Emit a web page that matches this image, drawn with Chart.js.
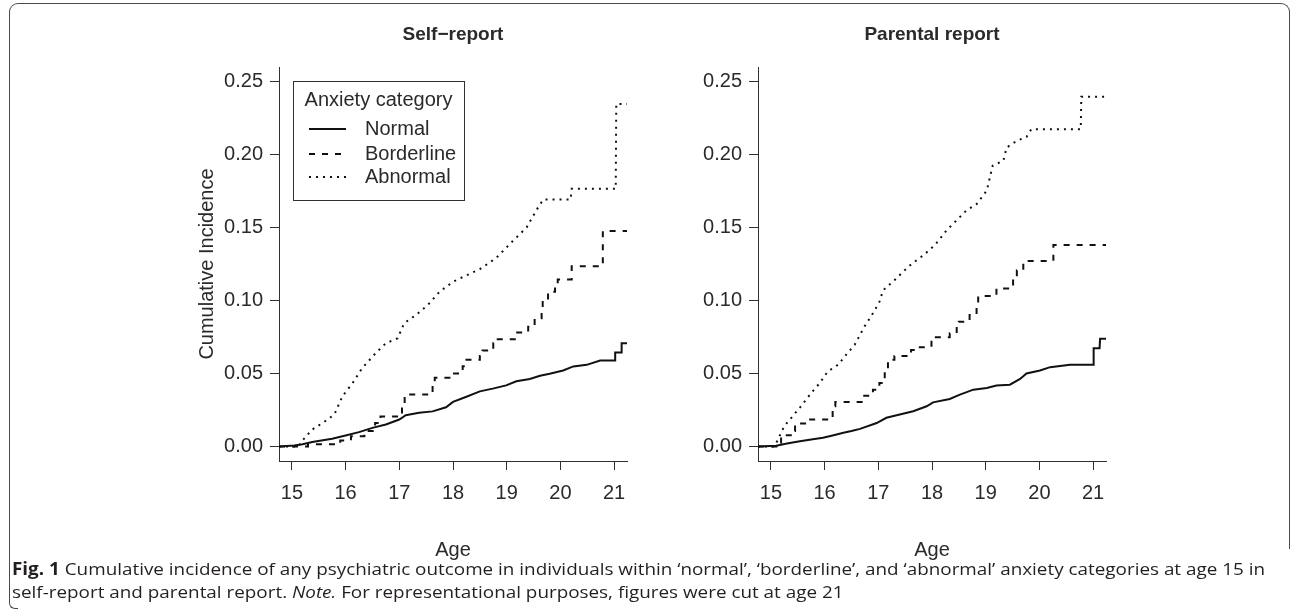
<!DOCTYPE html>
<html>
<head>
<meta charset="utf-8">
<script src="https://cdn.jsdelivr.net/npm/chart.js@4.4.1/dist/chart.umd.min.js"></script>
<style>
  html, body { margin: 0; padding: 0; background: #fff; }
  body { width: 1292px; height: 611px; position: relative; overflow: hidden; }
  .frame { position: absolute; left: 9px; top: 3px; width: 1279px; height: 545px;
           border: 1px solid #4a4a4a; border-bottom: none; border-radius: 9px 9px 0 0; }
  .frame-tail { position: absolute; left: 9px; top: 548px; width: 8px; height: 60px;
                border-left: 1px solid #4a4a4a; border-bottom: 1px solid #4a4a4a; border-radius: 0 0 0 6px; }
  canvas { position: absolute; top: 0; }
  #self-chart { left: 150px; }
  #parent-chart { left: 640px; }
  .caption { position: absolute; left: 12px; white-space: nowrap; display: inline-block;
             font-family: 'Open Sans', 'Noto Sans', sans-serif; font-size: 17px; line-height: 23px;
             color: #231f20; transform-origin: 0 0; }
  .caption b { font-weight: 700; }
</style>
</head>
<body>
<div class="frame"></div>
<div class="frame-tail"></div>
<canvas id="self-chart" width="490" height="562"></canvas>
<canvas id="parent-chart" width="479" height="562"></canvas>
<div class="caption" id="caption-1" style="top:557px"><b>Fig. 1</b> Cumulative incidence of any psychiatric outcome in individuals within ‘normal’, ‘borderline’, and ‘abnormal’ anxiety categories at age 15 in</div>
<div class="caption" id="caption-2" style="top:580px">self-report and parental report. <i>Note.</i> For representational purposes, figures were cut at age 21</div>
<script>
const AGE_TICKS = [15, 16, 17, 18, 19, 20, 21];
const INCIDENCE_TICKS = [0, 0.05, 0.10, 0.15, 0.20, 0.25];
const CATEGORY_LABELS = ['Normal', 'Borderline', 'Abnormal'];
const PANEL_TITLES = ['Self\u2212report', 'Parental report'];

// self-report curves
const selfNormalAge = [14.76, 15.04, 15.2, 15.38, 15.55, 15.75, 16.0, 16.25, 16.5, 16.75, 17.0, 17.12, 17.37, 17.62, 17.87, 18.0, 18.25, 18.5, 18.74, 18.99, 19.18, 19.43, 19.62, 19.8, 20.05, 20.24, 20.49, 20.74, 21.02, 21.02, 21.14, 21.14, 21.3];
const selfNormalInc = [0, 0.0007, 0.0015, 0.003, 0.004, 0.0052, 0.0075, 0.0098, 0.0127, 0.015, 0.0184, 0.0214, 0.023, 0.024, 0.0268, 0.0305, 0.034, 0.0377, 0.0396, 0.0418, 0.0446, 0.0462, 0.0484, 0.0498, 0.052, 0.0548, 0.0559, 0.0589, 0.0589, 0.0643, 0.0643, 0.0707, 0.0707];

const selfBorderAge = [14.76, 15.3, 15.9, 16.1, 16.35, 16.55, 16.65, 17.05, 17.1, 17.62, 17.66, 18.0, 18.18, 18.22, 18.5, 18.55, 18.75, 18.78, 19.15, 19.4, 19.52, 19.65, 19.67, 19.77, 19.9, 19.95, 20.21, 20.79, 21.3];
const selfBorderInc = [0, 0.0014, 0.004, 0.007, 0.0105, 0.016, 0.0205, 0.028, 0.0355, 0.042, 0.047, 0.050, 0.055, 0.0593, 0.062, 0.0657, 0.0707, 0.0735, 0.078, 0.082, 0.0878, 0.092, 0.100, 0.106, 0.1105, 0.1144, 0.1235, 0.1476, 0.1476];

const selfAbnormalAge = [14.76, 15.13, 15.16, 15.38, 15.57, 15.79, 15.94, 16.13, 16.31, 16.56, 16.75, 16.97, 17.09, 17.31, 17.53, 17.75, 18.0, 18.18, 18.5, 18.8, 19.12, 19.37, 19.55, 19.68, 20.19, 20.21, 21.03, 21.04, 21.3];
const selfAbnormalInc = [0, 0, 0.0025, 0.0116, 0.016, 0.0218, 0.0343, 0.0434, 0.0537, 0.0639, 0.0707, 0.0741, 0.0844, 0.090, 0.0969, 0.106, 0.1128, 0.116, 0.1215, 0.129, 0.141, 0.150, 0.1617, 0.1692, 0.1692, 0.1765, 0.1765, 0.2347, 0.2347];

// parental report curves
const parentNormalAge = [14.76, 15.1, 15.3, 15.54, 15.75, 15.97, 16.15, 16.35, 16.5, 16.66, 16.97, 17.15, 17.4, 17.65, 17.9, 18.02, 18.33, 18.52, 18.77, 19.02, 19.2, 19.45, 19.64, 19.76, 20.01, 20.2, 20.57, 21.0, 21.01, 21.12, 21.13, 21.3];
const parentNormalInc = [0, 0.0005, 0.002, 0.0036, 0.0047, 0.0059, 0.0075, 0.0093, 0.0105, 0.012, 0.016, 0.0196, 0.0218, 0.0241, 0.0275, 0.0302, 0.0325, 0.0355, 0.0389, 0.040, 0.0418, 0.0423, 0.0462, 0.050, 0.052, 0.0543, 0.0559, 0.0559, 0.0673, 0.0673, 0.0737, 0.0737];

const parentBorderAge = [14.76, 15.1, 15.19, 15.41, 15.45, 15.7, 16.15, 16.2, 16.71, 16.9, 17.02, 17.12, 17.18, 17.3, 17.61, 17.68, 17.99, 18.02, 18.33, 18.46, 18.5, 18.7, 18.83, 18.86, 19.2, 19.51, 19.58, 19.7, 20.26, 21.3];
const parentBorderInc = [0, 0.0025, 0.0077, 0.0105, 0.0157, 0.0184, 0.0275, 0.0304, 0.0348, 0.0389, 0.0434, 0.0525, 0.0593, 0.062, 0.066, 0.068, 0.073, 0.0748, 0.0775, 0.082, 0.0855, 0.090, 0.0957, 0.103, 0.1082, 0.116, 0.1207, 0.127, 0.138, 0.138];

const parentAbnormalAge = [14.76, 15.07, 15.16, 15.25, 15.38, 15.56, 15.75, 15.91, 16.06, 16.25, 16.4, 16.56, 16.74, 16.9, 17.02, 17.09, 17.3, 17.49, 17.62, 17.84, 18.05, 18.27, 18.46, 18.64, 18.83, 19.02, 19.13, 19.33, 19.39, 19.58, 19.76, 19.85, 20.77, 20.78, 21.3];
const parentAbnormalInc = [0, 0, 0.007, 0.0139, 0.0196, 0.0275, 0.0366, 0.0434, 0.0514, 0.0559, 0.0628, 0.0696, 0.082, 0.0912, 0.099, 0.107, 0.1139, 0.1207, 0.125, 0.131, 0.1378, 0.148, 0.155, 0.1617, 0.166, 0.1753, 0.1924, 0.1958, 0.2048, 0.2094, 0.2121, 0.2174, 0.2174, 0.2396, 0.2396];

const FONT = "'Liberation Sans', Arial, Helvetica, sans-serif";
const TEXT_COLOR = '#2a2a2a';
const AXIS_COLOR = '#303030';
const LINE_DASH = [[], [6, 7], [2, 5]];
const LINE_STEPPED = [false, true, false];

function toPoints(ages, values) {
  return ages.map((x, i) => ({ x, y: values[i] }));
}

const panelDecor = {
  id: 'panelDecor',
  afterDraw(chart, args, opts) {
    const { ctx, chartArea } = chart;
    ctx.save();
    ctx.fillStyle = TEXT_COLOR;
    ctx.font = `bold 19px ${FONT}`;
    ctx.textAlign = 'center';
    ctx.textBaseline = 'middle';
    ctx.fillText(opts.title, (chartArea.left + chartArea.right) / 2, 35);

    if (opts.legend) {
      const left = chartArea.left + 14;
      const top = chartArea.top + 14;
      const w = 171;
      const h = 119;
      ctx.fillStyle = '#fff';
      ctx.fillRect(left, top, w, h);
      ctx.strokeStyle = AXIS_COLOR;
      ctx.lineWidth = 1;
      ctx.strokeRect(left + 0.5, top + 0.5, w, h);

      ctx.fillStyle = TEXT_COLOR;
      ctx.font = `20px ${FONT}`;
      ctx.fillText('Anxiety category', left + w / 2, top + 19);

      ctx.textAlign = 'left';
      const rows = [48, 73, 96];
      chart.data.datasets.forEach((ds, i) => {
        const y = top + rows[i];
        ctx.strokeStyle = ds.borderColor;
        ctx.lineWidth = ds.borderWidth;
        ctx.setLineDash(ds.borderDash);
        ctx.beginPath();
        ctx.moveTo(left + 16, y);
        ctx.lineTo(left + 53, y);
        ctx.stroke();
        ctx.setLineDash([]);
        ctx.fillText(ds.label, left + 72, y);
      });
    }
    ctx.restore();
  }
};

function axisBase(ticks, min, max) {
  return {
    type: 'linear',
    min,
    max,
    afterBuildTicks: (scale) => {
      scale.ticks = ticks.map((value) => ({ value }));
    },
    grid: {
      display: true,
      drawOnChartArea: false,
      drawTicks: true,
      tickLength: 9,
      color: AXIS_COLOR,
      lineWidth: 1
    },
    border: { display: true, color: AXIS_COLOR, width: 1 }
  };
}

function buildPanel(canvasId, title, series, yAxisWidth, showYTitle, showLegend) {
  const datasets = series.map(([ages, values], i) => ({
    label: CATEGORY_LABELS[i],
    data: toPoints(ages, values),
    borderColor: '#111',
    borderWidth: 2,
    borderDash: LINE_DASH[i],
    borderCapStyle: 'butt',
    stepped: LINE_STEPPED[i],
    pointRadius: 0,
    fill: false,
    tension: 0
  }));

  return new Chart(document.getElementById(canvasId), {
    type: 'line',
    data: { datasets },
    options: {
      responsive: false,
      animation: false,
      devicePixelRatio: 1,
      parsing: false,
      layout: { padding: { top: 67, right: 13, left: 0, bottom: 0 } },
      plugins: {
        legend: { display: false },
        tooltip: { enabled: false },
        title: { display: false },
        panelDecor: { title, legend: showLegend }
      },
      scales: {
        x: {
          ...axisBase(AGE_TICKS, 14.76, 21.24),
          afterFit: (scale) => { scale.height = 101; },
          ticks: {
            color: TEXT_COLOR,
            font: { family: FONT, size: 20 },
            padding: 11,
            maxRotation: 0,
            autoSkip: false
          },
          title: {
            display: true,
            text: 'Age',
            color: TEXT_COLOR,
            font: { family: FONT, size: 20 },
            padding: { top: 0, bottom: 0 }
          }
        },
        y: {
          ...axisBase(INCIDENCE_TICKS, -0.01, 0.26),
          afterFit: (scale) => { scale.width = yAxisWidth; },
          ticks: {
            color: TEXT_COLOR,
            font: { family: FONT, size: 20 },
            padding: 7,
            callback: (value) => Number(value).toFixed(2)
          },
          title: {
            display: showYTitle,
            text: 'Cumulative Incidence',
            color: TEXT_COLOR,
            font: { family: FONT, size: 20 },
            padding: { top: 45, bottom: 0 }
          }
        }
      }
    },
    plugins: [panelDecor]
  });
}

buildPanel('self-chart', PANEL_TITLES[0], [
  [selfNormalAge, selfNormalInc],
  [selfBorderAge, selfBorderInc],
  [selfAbnormalAge, selfAbnormalInc]
], 129, true, true);

buildPanel('parent-chart', PANEL_TITLES[1], [
  [parentNormalAge, parentNormalInc],
  [parentBorderAge, parentBorderInc],
  [parentAbnormalAge, parentAbnormalInc]
], 118, false, false);

// squeeze both caption lines by the factor that fits the first line to the figure width
const captionFirst = document.getElementById('caption-1');
const captionSecond = document.getElementById('caption-2');
const captionWidth = captionFirst.getBoundingClientRect().width;
if (captionWidth > 0) {
  const squeeze = 1253 / captionWidth;
  captionFirst.style.transform = `scaleX(${squeeze})`;
  captionSecond.style.transform = `scaleX(${squeeze})`;
}
</script>
</body>
</html>
